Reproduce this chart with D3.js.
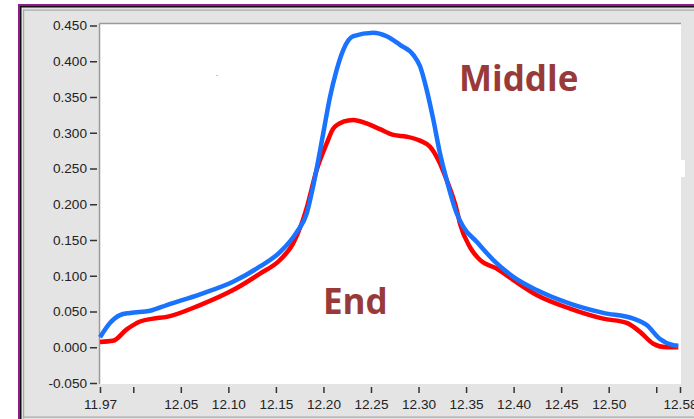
<!DOCTYPE html>
<html>
<head>
<meta charset="utf-8">
<script src="https://cdn.jsdelivr.net/npm/d3@7"></script>
<style>
  html, body { margin: 0; padding: 0; background: #ffffff; }
  svg { display: block; }
</style>
</head>
<body>
<svg id="chart"></svg>
<script>
const WIDTH = 694;
const HEIGHT = 419;

// "Middle" profile (blue)
const middleX = [11.965, 11.9755, 11.986, 11.9966, 12.0176, 12.0352, 12.0702, 12.1049, 12.1333, 12.1543,
  12.1719, 12.1824, 12.1893, 12.1999, 12.2069, 12.2139, 12.2209, 12.2314, 12.2524, 12.2665,
  12.2805, 12.2945, 12.3016, 12.3086, 12.3156, 12.3226, 12.3296, 12.3402, 12.3471, 12.3612,
  12.3787, 12.3997, 12.4243, 12.4593, 12.4943, 12.5259, 12.5400, 12.5536, 12.5680, 12.5732];
const middleY = [0.014, 0.034, 0.045, 0.048, 0.051, 0.059, 0.074, 0.0915, 0.113, 0.133,
  0.161, 0.187, 0.226, 0.300, 0.350, 0.388, 0.416, 0.435, 0.440, 0.435,
  0.423, 0.409, 0.393, 0.360, 0.318, 0.271, 0.234, 0.187, 0.1685, 0.1475,
  0.122, 0.0985, 0.080, 0.061, 0.048, 0.040, 0.031, 0.012, 0.003, 0.002];

// "End" profile (red)
const endX = [11.965, 11.9787, 11.9931, 12.0071, 12.0207, 12.0352, 12.0702, 12.1049, 12.1333, 12.1543,
  12.1680, 12.1771, 12.1824, 12.1929, 12.2034, 12.2104, 12.2209, 12.2314, 12.2455, 12.2594,
  12.2735, 12.2876, 12.3016, 12.3121, 12.3208, 12.3296, 12.3402, 12.3436, 12.3541, 12.3647,
  12.3822, 12.3997, 12.4243, 12.4593, 12.4943, 12.5190, 12.5330, 12.5469, 12.5610, 12.5732];
const endY = [0.0075, 0.009, 0.025, 0.036, 0.040, 0.0425, 0.059, 0.080, 0.103, 0.122,
  0.145, 0.173, 0.195, 0.248, 0.285, 0.306, 0.3155, 0.318, 0.313, 0.305,
  0.297, 0.2945, 0.289, 0.2805, 0.262, 0.234, 0.192, 0.173, 0.140, 0.122,
  0.110, 0.094, 0.073, 0.054, 0.040, 0.034, 0.0215, 0.005, 0.0, 0.0];

const xTickValues = [11.965, 12.00, 12.05, 12.10, 12.15, 12.20, 12.25, 12.30, 12.35, 12.40, 12.45, 12.50, 12.55, 12.575];
const xTickLabels = ["11.97", "", "12.05", "12.10", "12.15", "12.20", "12.25", "12.30", "12.35", "12.40", "12.45", "12.50", "", "12.58"];
const yTickValues = [-0.05, 0, 0.05, 0.1, 0.15, 0.2, 0.25, 0.3, 0.35, 0.4, 0.45];

const PLOT_LEFT = 100, PLOT_RIGHT = 681, PLOT_TOP = 24, PLOT_BOTTOM = 384;

const svg = d3.select("#chart").attr("width", WIDTH).attr("height", HEIGHT);

// window frame
svg.append("rect").attr("x", 0).attr("y", 0).attr("width", WIDTH).attr("height", HEIGHT).attr("fill", "#ffffff");
svg.append("rect").attr("x", 20).attr("y", 6).attr("width", WIDTH - 20).attr("height", HEIGHT - 6).attr("fill", "#e4e4e4");
svg.append("rect").attr("x", 18).attr("y", 4).attr("width", WIDTH - 18).attr("height", 2).attr("fill", "#8e1b8e");
svg.append("rect").attr("x", 18).attr("y", 4).attr("width", 2).attr("height", HEIGHT - 4).attr("fill", "#8e1b8e");
svg.append("rect").attr("x", 20).attr("y", 6).attr("width", WIDTH - 20).attr("height", 1.5).attr("fill", "#111");
svg.append("rect").attr("x", 20).attr("y", 6).attr("width", 1.5).attr("height", HEIGHT - 6).attr("fill", "#111");
svg.append("rect").attr("x", 23).attr("y", 9.5).attr("width", WIDTH - 23).attr("height", 1.2).attr("fill", "#a8a8a8");
svg.append("rect").attr("x", 23).attr("y", 9.5).attr("width", 1.2).attr("height", HEIGHT - 10).attr("fill", "#a8a8a8");
svg.append("rect").attr("x", 23).attr("y", 416.5).attr("width", WIDTH - 23).attr("height", 1.2).attr("fill", "#a8a8a8");

// plot area
svg.append("rect")
   .attr("x", PLOT_LEFT).attr("y", PLOT_TOP)
   .attr("width", PLOT_RIGHT - PLOT_LEFT).attr("height", PLOT_BOTTOM - PLOT_TOP)
   .attr("fill", "#ffffff");
svg.append("line").attr("x1", PLOT_LEFT - 0.5).attr("x2", PLOT_RIGHT).attr("y1", PLOT_TOP - 0.5).attr("y2", PLOT_TOP - 0.5)
   .attr("stroke", "#9a9a9a").attr("stroke-width", 1.5);
svg.append("line").attr("x1", PLOT_LEFT - 0.5).attr("x2", PLOT_LEFT - 0.5).attr("y1", PLOT_TOP - 0.5).attr("y2", PLOT_BOTTOM)
   .attr("stroke", "#9a9a9a").attr("stroke-width", 1.5);

// small artifacts seen in the screenshot
svg.append("rect").attr("x", 681).attr("y", 160).attr("width", 4).attr("height", 17).attr("fill", "#ffffff");
svg.append("rect").attr("x", 216.5).attr("y", 75).attr("width", 1).attr("height", 1).attr("fill", "#888");

const xScale = d3.scaleLinear().domain([11.965, 12.575]).range([PLOT_LEFT, 680]);
const yScale = d3.scaleLinear().domain([-0.05, 0.45]).range([383, 25.5]);

// y axis
const axisY = svg.append("g")
   .attr("transform", `translate(${PLOT_LEFT - 3},0)`)
   .call(d3.axisLeft(yScale).tickValues(yTickValues).tickFormat(d3.format(".3f")).tickSize(7).tickPadding(3));
axisY.select(".domain").remove();
axisY.selectAll(".tick line").attr("stroke", "#333").attr("stroke-width", 1.5);
axisY.selectAll(".tick text")
   .attr("fill", "#222")
   .style("font-family", "'Liberation Sans', Arial, sans-serif")
   .style("font-size", "13.6px")
   .text(d => d < 0 ? "-" + d3.format(".3f")(-d) : d3.format(".3f")(d));

// x axis
const axisX = svg.append("g")
   .attr("transform", `translate(0,387)`)
   .call(d3.axisBottom(xScale).tickValues(xTickValues).tickFormat((d, i) => xTickLabels[i]).tickSize(6).tickPadding(6));
axisX.select(".domain").remove();
axisX.selectAll(".tick line").attr("stroke", "#333").attr("stroke-width", 1.5);
axisX.selectAll(".tick text")
   .attr("fill", "#222")
   .style("font-family", "'Liberation Sans', Arial, sans-serif")
   .style("font-size", "13.6px");

// curves
const line = d3.line()
   .x(d => xScale(d[0]))
   .y(d => yScale(d[1]))
   .curve(d3.curveMonotoneX);

const endData = endX.map((x, i) => [x, endY[i]]);
const middleData = middleX.map((x, i) => [x, middleY[i]]);

svg.append("path")
   .datum(endData)
   .attr("d", line)
   .attr("fill", "none")
   .attr("stroke", "#ff0000")
   .attr("stroke-width", 4.5)
   .attr("stroke-linejoin", "round");

svg.append("path")
   .datum(middleData)
   .attr("d", line)
   .attr("fill", "none")
   .attr("stroke", "#1a73ff")
   .attr("stroke-width", 4.5)
   .attr("stroke-linejoin", "round");

// labels
svg.append("text")
   .text("Middle")
   .attr("x", 459).attr("y", 91)
   .attr("fill", "#983a3a")
   .style("font-family", "'Open Sans', sans-serif")
   .style("font-weight", "bold")
   .style("font-size", "35px");

svg.append("text")
   .text("End")
   .attr("x", 323).attr("y", 314)
   .attr("fill", "#983a3a")
   .style("font-family", "'Open Sans', sans-serif")
   .style("font-weight", "bold")
   .style("font-size", "35px");
</script>
</body>
</html>
